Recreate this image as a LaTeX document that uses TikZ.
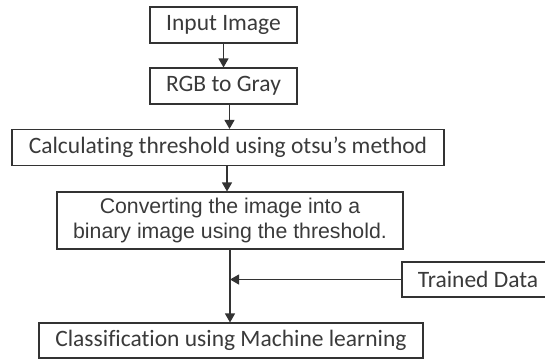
\documentclass[tikz,border=0pt]{standalone}
\usepackage{fontspec}
\setmainfont{Carlito}[Ligatures=CommonOff]
\newfontfamily\robotolike{Liberation Sans}
\usetikzlibrary{arrows.meta,positioning}

\definecolor{inkgray}{HTML}{333333}
\definecolor{textgray}{HTML}{3A3A3A}

\begin{document}
\begin{tikzpicture}[
    x=1pt, y=-1pt,
    every node/.style={draw=inkgray, line width=1.1pt, inner sep=0pt,
                       text=textgray, font=\fontsize{23.5}{27}\selectfont},
    flow/.style={draw=inkgray, line width=1.1pt,
                 -{Triangle[length=9pt, width=10pt]}}]
  \useasboundingbox (0,0) rectangle (545,359);

  % main pipeline
  \node[minimum width=147pt, minimum height=36pt] (input) at (223.5,25) {Input Image};
  \node[minimum width=147pt, minimum height=36pt] (gray) at (223.5,86) {RGB to Gray};
  \node[minimum width=432pt, minimum height=36pt] (otsu) at (228,147.5)
    {Calculating threshold using otsu’s method};
  \node[minimum width=346pt, minimum height=57pt, align=center,
        font=\robotolike\fontsize{21.3}{25.5}\selectfont] (binary) at (230,220.5)
    {Converting the image into a\\binary image using the threshold.};
  \node[minimum width=384pt, minimum height=35pt] (classify) at (231,340.5)
    {Classification using Machine learning};

  % side input
  \node[minimum width=146pt, minimum height=35pt] (trained) at (475,279.5) {\hspace*{6pt}Trained Data};
  \coordinate (join) at (binary.south |- trained.west);

  \draw[flow] (input.south) -- (gray.north);
  \draw[flow] ([xshift=6pt]gray.south) -- ([xshift=6pt]gray.south |- otsu.north);
  \draw[flow] ([xshift=-1pt]otsu.south) -- ([xshift=-1pt]otsu.south |- binary.north);
  \draw[flow] (binary.south) -- (binary.south |- classify.north);
  \draw[flow] (trained.west) -- (join);
\end{tikzpicture}
\end{document}
